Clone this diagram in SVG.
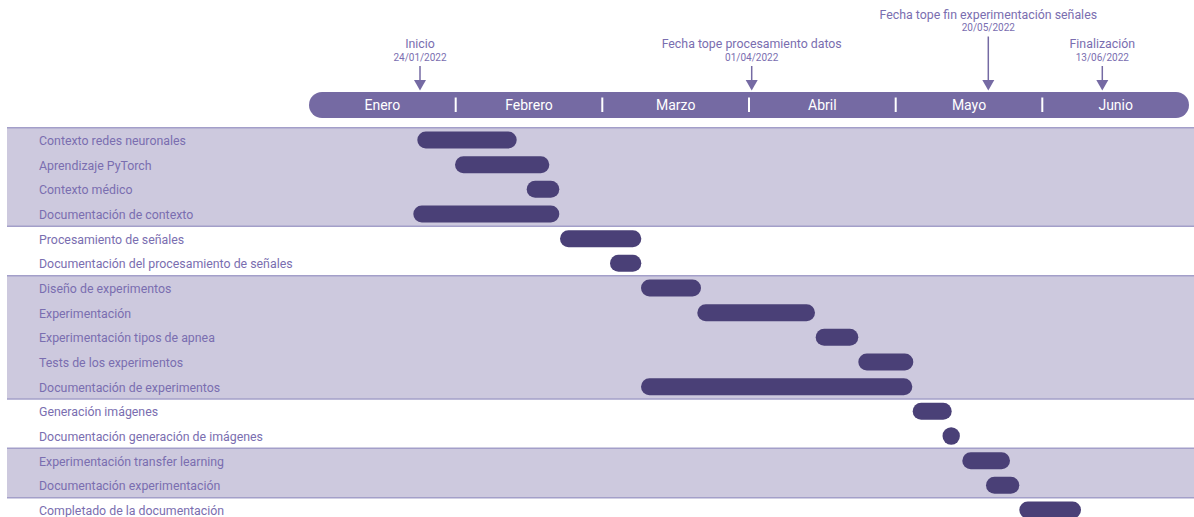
<svg xmlns="http://www.w3.org/2000/svg" width="1194" height="517" viewBox="0 0 1194 517">
<style>
text{font-family:Roboto,"Liberation Sans",sans-serif}
.lbl{font-size:12.35px;fill:#7a6eb0}
.mt{font-size:12.35px;fill:#7a6eb0;text-anchor:middle}
.md{font-size:10px;fill:#7a6eb0;text-anchor:middle}
.mon{font-size:14px;fill:#ffffff;text-anchor:middle}
.band{fill:#cdc9de}
.bl{stroke:#a39fc9;stroke-width:1.5}
.bar{fill:#4a4077}
.sep{stroke:#ffffff;stroke-width:2}
.arr{stroke:#756aa3;stroke-width:1.5;fill:none}
.tri{fill:#756aa3}
</style>
<g id="bands">
<rect class="band" x="7" y="127.7" width="1187" height="98.7"/>
<rect class="band" x="7" y="275.7" width="1187" height="123.3"/>
<rect class="band" x="7" y="448.3" width="1187" height="49.4"/>
<line class="bl" x1="7" y1="127.7" x2="1194" y2="127.7"/>
<line class="bl" x1="7" y1="226.3" x2="1194" y2="226.3"/>
<line class="bl" x1="7" y1="275.7" x2="1194" y2="275.7"/>
<line class="bl" x1="7" y1="399" x2="1194" y2="399"/>
<line class="bl" x1="7" y1="448.3" x2="1194" y2="448.3"/>
<line class="bl" x1="7" y1="497.7" x2="1194" y2="497.7"/>
</g>
<g id="timeline">
<rect x="309" y="92" width="880" height="26" rx="13" fill="#756aa3"/>
<line class="sep" x1="455.7" y1="97.5" x2="455.7" y2="112"/>
<line class="sep" x1="602.3" y1="97.5" x2="602.3" y2="112"/>
<line class="sep" x1="749" y1="97.5" x2="749" y2="112"/>
<line class="sep" x1="895.7" y1="97.5" x2="895.7" y2="112"/>
<line class="sep" x1="1042.3" y1="97.5" x2="1042.3" y2="112"/>
<text class="mon" x="382.3" y="110">Enero</text>
<text class="mon" x="529" y="110">Febrero</text>
<text class="mon" x="675.7" y="110">Marzo</text>
<text class="mon" x="822.3" y="110">Abril</text>
<text class="mon" x="969" y="110">Mayo</text>
<text class="mon" x="1115.7" y="110">Junio</text>
</g>
<g id="connectors">
<line class="arr" x1="420" y1="66" x2="420" y2="82"/>
<polygon class="tri" points="414,80 426,80 420,90.5"/>
<line class="arr" x1="751.7" y1="66" x2="751.7" y2="82"/>
<polygon class="tri" points="745.7,80 757.7,80 751.7,90.5"/>
<line class="arr" x1="988.3" y1="36.5" x2="988.3" y2="82"/>
<polygon class="tri" points="982.3,80 994.3,80 988.3,90.5"/>
<line class="arr" x1="1102.3" y1="66" x2="1102.3" y2="82"/>
<polygon class="tri" points="1096.3,80 1108.3,80 1102.3,90.5"/>
</g>
<g id="m-inicio"><text class="mt" x="420" y="48.3">Inicio</text><text class="md" x="420" y="60.5">24/01/2022</text></g>
<g id="m-procesamiento"><text class="mt" x="751.7" y="48.3">Fecha tope procesamiento datos</text><text class="md" x="751.7" y="60.5">01/04/2022</text></g>
<g id="m-experimentacion"><text class="mt" x="988.3" y="19.3">Fecha tope fin experimentación señales</text><text class="md" x="988.3" y="31">20/05/2022</text></g>
<g id="m-finalizacion"><text class="mt" x="1102.3" y="48.3">Finalización</text><text class="md" x="1102.3" y="60.5">13/06/2022</text></g>
<g id="t0"><text class="lbl" x="39" y="145">Contexto redes neuronales</text><rect class="bar" x="417.3" y="131.5" width="99.4" height="17" rx="8.5"/></g>
<g id="t1"><text class="lbl" x="39" y="169.7">Aprendizaje PyTorch</text><rect class="bar" x="455" y="156.2" width="94.3" height="17" rx="8.5"/></g>
<g id="t2"><text class="lbl" x="39" y="194.3">Contexto médico</text><rect class="bar" x="526.7" y="180.8" width="32.6" height="17" rx="8.5"/></g>
<g id="t3"><text class="lbl" x="39" y="219">Documentación de contexto</text><rect class="bar" x="413.3" y="205.5" width="146" height="17" rx="8.5"/></g>
<g id="t4"><text class="lbl" x="39" y="243.7">Procesamiento de señales</text><rect class="bar" x="560" y="230.2" width="81.3" height="17" rx="8.5"/></g>
<g id="t5"><text class="lbl" x="39" y="268.3">Documentación del procesamiento de señales</text><rect class="bar" x="610" y="254.8" width="31.3" height="17" rx="8.5"/></g>
<g id="t6"><text class="lbl" x="39" y="293">Diseño de experimentos</text><rect class="bar" x="641" y="279.5" width="60" height="17" rx="8.5"/></g>
<g id="t7"><text class="lbl" x="39" y="317.7">Experimentación</text><rect class="bar" x="697.3" y="304.2" width="117.7" height="17" rx="8.5"/></g>
<g id="t8"><text class="lbl" x="39" y="342.3">Experimentación tipos de apnea</text><rect class="bar" x="815.7" y="328.8" width="42.6" height="17" rx="8.5"/></g>
<g id="t9"><text class="lbl" x="39" y="367">Tests de los experimentos</text><rect class="bar" x="858.3" y="353.5" width="55" height="17" rx="8.5"/></g>
<g id="t10"><text class="lbl" x="39" y="391.7">Documentación de experimentos</text><rect class="bar" x="641" y="378.2" width="271.3" height="17" rx="8.5"/></g>
<g id="t11"><text class="lbl" x="39" y="416.3">Generación imágenes</text><rect class="bar" x="912.7" y="402.8" width="39" height="17" rx="8.5"/></g>
<g id="t12"><text class="lbl" x="39" y="441">Documentación generación de imágenes</text><circle class="bar" cx="951.2" cy="436" r="8.7"/></g>
<g id="t13"><text class="lbl" x="39" y="465.7">Experimentación transfer learning</text><rect class="bar" x="962.3" y="452.2" width="47.7" height="17" rx="8.5"/></g>
<g id="t14"><text class="lbl" x="39" y="490.3">Documentación experimentación</text><rect class="bar" x="986" y="476.8" width="33.3" height="17" rx="8.5"/></g>
<g id="t15"><text class="lbl" x="39" y="515">Completado de la documentación</text><rect class="bar" x="1019.3" y="501.5" width="61.7" height="17" rx="8.5"/></g>
</svg>
